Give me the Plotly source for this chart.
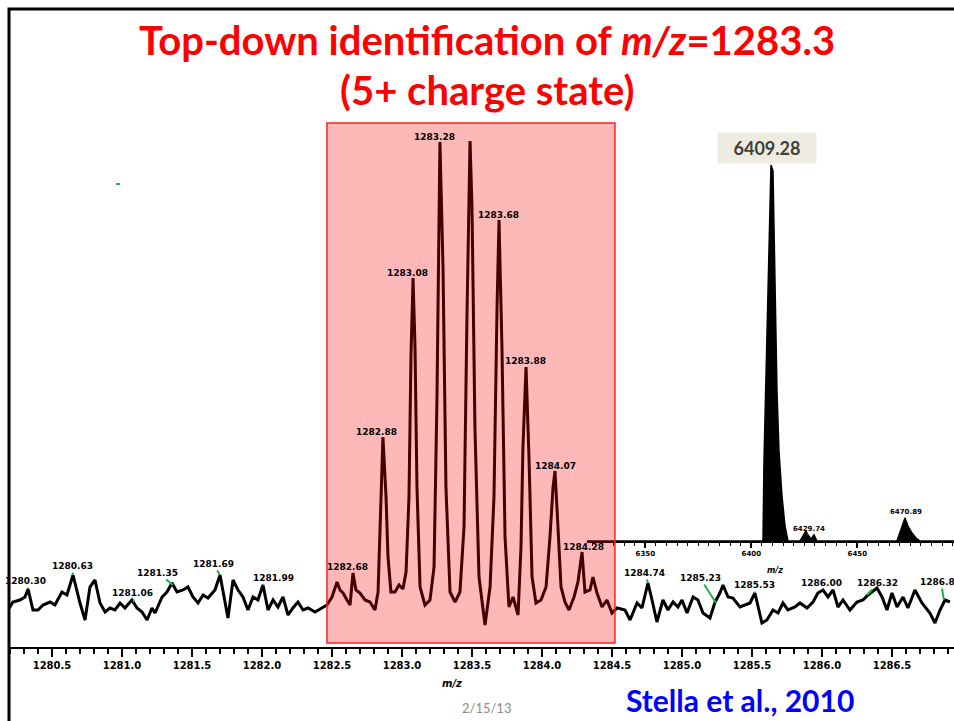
import plotly.graph_objects as go

# ---------------- data ----------------
# main spectrum (m/z, relative intensity, arbitrary units)
mz = [1280.186, 1280.221, 1280.271, 1280.307, 1280.329, 1280.364, 1280.400, 1280.436, 1280.486, 1280.521,
      1280.571, 1280.607, 1280.650, 1280.700, 1280.736, 1280.771, 1280.807, 1280.843, 1280.879, 1280.914,
      1280.950, 1280.986, 1281.021, 1281.071, 1281.107, 1281.143, 1281.179, 1281.214, 1281.236, 1281.286,
      1281.321, 1281.357, 1281.393, 1281.436, 1281.471, 1281.507, 1281.543, 1281.579, 1281.614, 1281.664,
      1281.700, 1281.721, 1281.757, 1281.793, 1281.829, 1281.864, 1281.900, 1281.936, 1281.971, 1282.007,
      1282.043, 1282.079, 1282.114, 1282.150, 1282.186, 1282.221, 1282.257, 1282.293, 1282.329, 1282.379,
      1282.429, 1282.464,
      1282.500, 1282.536, 1282.557, 1282.579, 1282.607, 1282.629, 1282.650, 1282.671, 1282.700, 1282.736,
      1282.771, 1282.807, 1282.829, 1282.843, 1282.864, 1282.886, 1282.900, 1282.921, 1282.950, 1282.979,
      1283.007, 1283.029, 1283.050, 1283.064, 1283.079, 1283.093, 1283.107, 1283.129, 1283.164, 1283.200,
      1283.229, 1283.250, 1283.271, 1283.293, 1283.314, 1283.343, 1283.379, 1283.414, 1283.443, 1283.464,
      1283.486, 1283.500, 1283.521, 1283.550, 1283.593, 1283.629, 1283.657, 1283.679, 1283.693, 1283.714,
      1283.736, 1283.764, 1283.793, 1283.829, 1283.850, 1283.864, 1283.886, 1283.907, 1283.929, 1283.957,
      1283.993, 1284.029, 1284.057, 1284.079, 1284.093, 1284.114, 1284.136, 1284.164, 1284.193, 1284.229,
      1284.257, 1284.286, 1284.307, 1284.343, 1284.364, 1284.393, 1284.429, 1284.464, 1284.500, 1284.536,
      1284.593, 1284.629, 1284.679, 1284.714, 1284.757, 1284.786, 1284.821, 1284.864, 1284.900, 1284.936,
      1284.971, 1285.000, 1285.036, 1285.079, 1285.114, 1285.150, 1285.200, 1285.236, 1285.271, 1285.293,
      1285.329, 1285.364, 1285.414, 1285.486, 1285.521, 1285.571, 1285.607, 1285.650, 1285.686, 1285.721,
      1285.757, 1285.807, 1285.843, 1285.893, 1285.936, 1285.971, 1286.007, 1286.043, 1286.079, 1286.114,
      1286.150, 1286.200, 1286.250, 1286.293, 1286.329, 1286.393, 1286.429, 1286.464, 1286.500, 1286.536,
      1286.579, 1286.614, 1286.664, 1286.714, 1286.771, 1286.807, 1286.843, 1286.879, 1286.914]
intensity = [37, 45, 47, 50, 58, 37, 37, 42, 45, 42,
             55, 52, 72, 44, 27, 60, 67, 44, 35, 39,
             37, 44, 39, 47, 39, 35, 27, 39, 34, 50,
             55, 64, 55, 57, 60, 50, 44, 52, 49, 57,
             72, 57, 29, 67, 57, 50, 37, 50, 47, 62,
             37, 47, 40, 50, 32, 39, 45, 37, 39, 35,
             39, 42,
             50, 65, 57, 54, 47, 42, 74, 57, 54, 47,
             45, 37, 55, 110, 210, 150, 90, 55, 55, 62,
             58, 75, 150, 290, 369, 300, 160, 60, 42, 47,
             80, 250, 505, 380, 160, 55, 45, 55, 120, 330,
             506, 440, 220, 70, 22, 60, 150, 340, 427, 300,
             110, 40, 50, 32, 100, 200, 280, 190, 70, 44,
             47, 60, 110, 160, 176, 120, 60, 45, 37, 50,
             65, 95, 55, 57, 70, 54, 40, 47, 34, 39,
             37, 27, 44, 39, 64, 47, 25, 47, 37, 45,
             40, 47, 34, 50, 47, 34, 29, 45, 54, 62,
             50, 49, 40, 44, 54, 24, 27, 37, 34, 44,
             37, 40, 44, 39, 45, 54, 57, 50, 57, 40,
             47, 37, 45, 47, 52, 59, 50, 37, 54, 40,
             50, 39, 57, 44, 34, 24, 37, 47, 45]

# peak labels on the main spectrum
peak_text = ["1280.30", "1280.63", "1281.06", "1281.35", "1281.69", "1281.99", "1282.68", "1282.88",
             "1283.08", "1283.28", "1283.68", "1283.88", "1284.07", "1284.28", "1284.74", "1285.23",
             "1285.53", "1286.00", "1286.32", "1286.87"]
peak_mz = [1280.329, 1280.650, 1281.086, 1281.364, 1281.700, 1282.007, 1282.650, 1282.864,
           1283.079, 1283.271, 1283.693, 1283.886, 1284.093, 1284.286, 1284.757, 1285.243,
           1285.521, 1286.007, 1286.321, 1286.871]
peak_int = [58, 72, 45, 62, 72, 62, 74, 210,
            369, 505, 427, 280, 176, 95, 64, 44,
            54, 57, 52, 47]
label_dx = [-3, -1, -2, -15, -7, 11, -5, -6, -6, -5, -1, -1, 0, 1, -3, -16, 0, -1, 11, -3]
label_dy = [-8, -9, -9, -12, -11, -7, -6, -5, -5, -5, -5, -6, -5, -5, -10, -25, -8, -7, -12, -18]

main_ticks = [1280.5, 1281.0, 1281.5, 1282.0, 1282.5, 1283.0, 1283.5, 1284.0, 1284.5,
              1285.0, 1285.5, 1286.0, 1286.5]

# inset: deconvoluted mass spectrum
mass = [6322.5, 6404.09, 6405.51, 6405.98, 6406.92, 6407.86, 6408.81, 6409.28, 6410.22, 6411.17,
        6412.11, 6413.05, 6414.47, 6415.88, 6417.30, 6422.96, 6424.85, 6425.79, 6426.73, 6428.15,
        6429.56, 6430.98, 6468.71, 6470.13, 6471.54, 6472.49, 6473.90, 6475.79, 6477.68, 6479.56,
        6495.6]
mass_int = [0, 0, 0, 80, 160, 250, 340, 376, 370, 250,
            150, 90, 45, 15, 0, 0, 6, 10, 6, 2,
            6, 0, 0, 8, 18, 23, 15, 8, 3, 0,
            0]
inset_ticks = [6350, 6400, 6450]
inset_label_text = ["6429.74", "6470.89"]
inset_label_mass = [6426.73, 6472.49]
inset_label_int = [6, 23]

W, H = 954, 721
def px(x):
    return x / W
def py(y):
    return (H - y) / H

fig = go.Figure()
fig.add_trace(go.Scatter(x=mz, y=intensity, mode="lines",
                         line=dict(color="black", width=3), hoverinfo="skip",
                         xaxis="x", yaxis="y"))
fig.add_trace(go.Scatter(x=mass, y=mass_int, mode="lines", fill="tozeroy",
                         fillcolor="black", line=dict(color="black", width=1.5),
                         hoverinfo="skip", xaxis="x2", yaxis="y2"))

def paper_text(x, y, text, font):
    return dict(xref="paper", yref="paper", x=px(x), y=py(y), showarrow=False,
                xanchor="center", yanchor="middle", text=text, font=font)

ann = []
ann.append(paper_text(487, 40, "Top-down identification of <i>m/z</i>=1283.3",
                      dict(family="Lato", size=40, color="#ff0000", weight="bold")))
ann.append(paper_text(487, 90, "(5+ charge state)",
                      dict(family="Lato", size=40, color="#ff0000", weight="bold")))
ann.append(paper_text(740, 700, "Stella et al., 2010",
                      dict(family="Lato", size=30, color="#0000ff", weight="bold")))
ann.append(paper_text(486, 708, "2/15/13", dict(family="Lato", size=13, color="#8c8c8c")))
ann.append(paper_text(452, 683, "<i>m/z</i>",
                      dict(family="DejaVu Sans", size=10, color="black", weight="bold")))
ann.append(paper_text(775, 570, "<i>m/z</i>",
                      dict(family="DejaVu Sans", size=8, color="black", weight="bold")))

for t, xm, yi, dx, dy in zip(peak_text, peak_mz, peak_int, label_dx, label_dy):
    ann.append(dict(xref="x", yref="y", x=xm, y=yi, text=t, showarrow=True,
                    ax=dx, ay=dy, arrowhead=0, arrowwidth=2, arrowcolor="#22b04b", standoff=0,
                    font=dict(family="DejaVu Sans", size=9, color="black", weight="bold")))

# inset labels
ann.append(dict(xref="x2", yref="y2", x=6409.28, y=376, text="6409.28", showarrow=False,
                xanchor="center", yanchor="bottom", xshift=-4, yshift=1, bgcolor="#eeece1",
                width=96, height=28,
                font=dict(family="Lato", size=18, color="#404040", weight="bold")))
for t, xm, yi in zip(inset_label_text, inset_label_mass, inset_label_int):
    ann.append(dict(xref="x2", yref="y2", x=xm, y=yi, text=t, showarrow=True,
                    ax=1, ay=-6, arrowhead=0, arrowwidth=2, arrowcolor="#22b04b", standoff=0,
                    font=dict(family="DejaVu Sans", size=7, color="black", weight="bold")))

shapes = [
    # highlighted isotope cluster
    dict(type="rect", xref="x", yref="y", x0=1282.464, x1=1284.521, y0=4, y1=524,
         fillcolor="rgba(255,0,0,0.28)", line=dict(color="#ff2020", width=1.5), layer="above"),
    # slide frame (top and left edges visible)
    dict(type="rect", xref="paper", yref="paper", x0=px(9), x1=1.05, y0=-0.05, y1=py(9),
         fillcolor="rgba(0,0,0,0)", line=dict(color="black", width=3), layer="above"),
    # stray green mark
    dict(type="line", xref="x", yref="y", x0=1280.957, x1=1280.986, y0=463, y1=463,
         line=dict(color="#22b04b", width=2)),
]

fig.update_layout(
    width=W, height=H, margin=dict(l=0, r=0, t=0, b=0),
    template="none", showlegend=False,
    paper_bgcolor="white", plot_bgcolor="rgba(0,0,0,0)",
    xaxis=dict(domain=[px(10), 1], range=[1280.2, 1286.943], anchor="y",
               showline=True, linecolor="black", linewidth=2,
               ticks="outside", tickvals=main_ticks, ticktext=[f"{v:.1f}" for v in main_ticks],
               ticklen=8, tickwidth=2, tickcolor="black",
               minor=dict(dtick=0.1, tick0=1280.5, ticks="outside", ticklen=5, tickwidth=1.5,
                          tickcolor="black", showgrid=False),
               tickfont=dict(family="DejaVu Sans", size=10, color="black", weight="bold"),
               showgrid=False, zeroline=False, automargin=False, fixedrange=True),
    yaxis=dict(domain=[py(647), py(8)], range=[0, 639], visible=False, anchor="x",
               automargin=False, fixedrange=True),
    xaxis2=dict(domain=[px(587), 1], range=[6322.5, 6495.6], anchor="y2",
                showline=True, linecolor="black", linewidth=1.5,
                ticks="outside", tickvals=inset_ticks, ticklen=5, tickwidth=1.5, tickcolor="black",
                minor=dict(dtick=5, tick0=6350, ticks="outside", ticklen=3, tickwidth=1,
                           tickcolor="black", showgrid=False),
                tickfont=dict(family="DejaVu Sans", size=7, color="black", weight="bold"),
                showgrid=False, zeroline=False, automargin=False, fixedrange=True),
    yaxis2=dict(domain=[py(541), py(140)], range=[0, 401], visible=False, anchor="x2",
                automargin=False, fixedrange=True),
    annotations=ann, shapes=shapes,
)

fig.write_html("out.html", config={"displayModeBar": False},
               post_script="document.body.style.margin='0';document.body.style.overflow='hidden';")
